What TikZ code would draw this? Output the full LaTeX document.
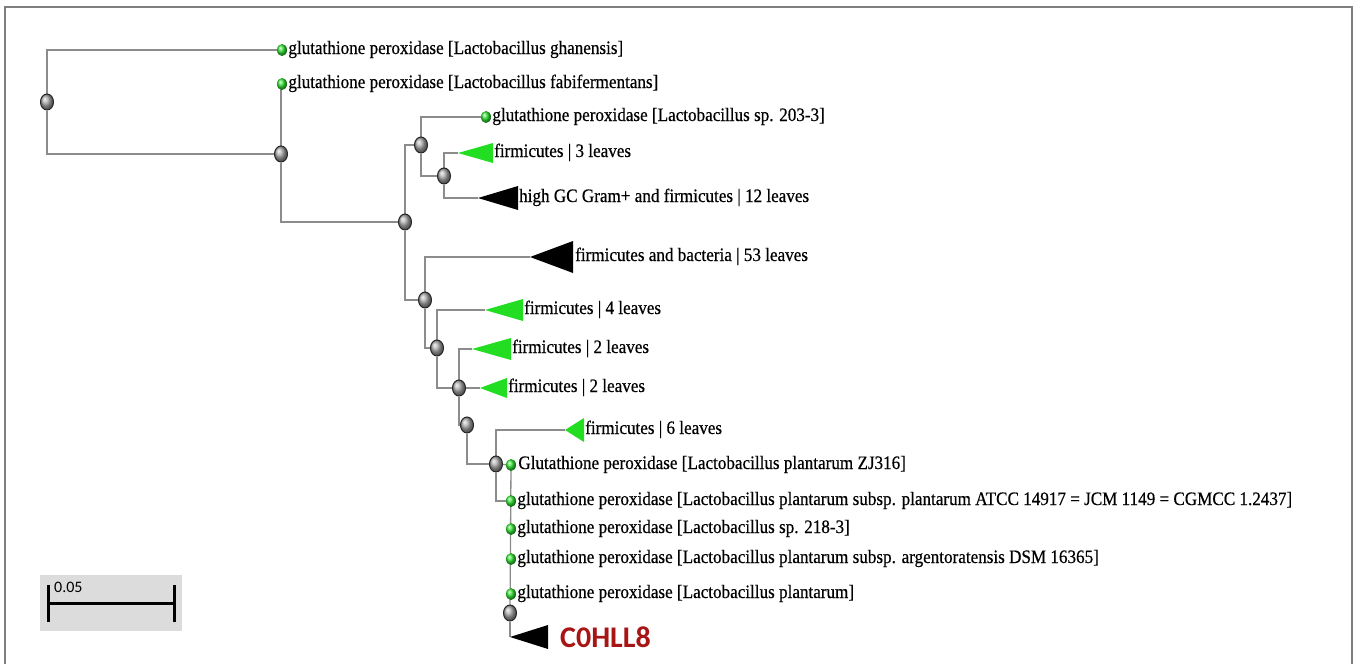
\documentclass[tikz,border=0pt]{standalone}
\usepackage{fontspec}
\setmainfont{Liberation Serif}[FakeStretch=0.9, FakeBold=0.5]
\newfontfamily\labelsans{Carlito}
\usepackage{xcolor}
\definecolor{branchGray}{HTML}{8C8C8C}
\definecolor{frameGray}{HTML}{7F7F7F}
\definecolor{leafGreen}{HTML}{33E633}
\definecolor{cladeGreen}{HTML}{22DD22}
\definecolor{queryRed}{HTML}{A81515}
\definecolor{scaleBg}{HTML}{DCDCDC}
\usepackage{tikz}
\usetikzlibrary{positioning,shapes.geometric,backgrounds}
\tikzset{%
  innerNode/.style={%
    ellipse,
    minimum width=13pt,
    minimum height=16pt,
    inner sep=0pt,
    draw=black!85,
    line width=1pt,
    shading=ball,
    ball color=gray!65
  },
  leafDot/.style={%
    ellipse,
    minimum width=10pt,
    minimum height=12pt,
    inner sep=0pt,
    shading=ball,
    ball color=leafGreen
  },
  branch/.style={%
    draw=branchGray,
    line width=1.3pt
  },
  leafText/.style={%
    font=\fontsize{19}{21}\selectfont,
    inner sep=1pt,
    text height=12pt,
    text depth=4pt
  },
  greenClade/.style={fill=cladeGreen},
  blackClade/.style={fill=black},
  queryText/.style={%
    font=\labelsans\bfseries\fontsize{30}{32}\selectfont,
    text=queryRed,
    inner sep=1pt
  },
  scaleBox/.style={%
    rectangle,
    fill=scaleBg,
    minimum width=142pt,
    minimum height=56pt
  },
  scaleBar/.style={line width=3pt, black}
}

\begin{document}
\begin{tikzpicture}[x=1pt, y=-1pt]
  \useasboundingbox (0,0) rectangle (1354,664);
  \draw[frameGray, line width=1.5pt] (5,664) -- (5,7) -- (1352,7) -- (1352,664);

  % inner nodes
  \node[innerNode] (n0) at (47,102) {};
  \node[innerNode] (n1) at (281,154) {};
  \node[innerNode] (n2) at (405,222) {};
  \node[innerNode] (n3) at (421,145) {};
  \node[innerNode] (n5) at (444,176) {};
  \node[innerNode] (n4) at (425,300) {};
  \node[innerNode] (n6) at (437,348) {};
  \node[innerNode] (n7) at (459,388) {};
  \node[innerNode] (n8) at (467,425) {};
  \node[innerNode] (n9) at (496,464) {};
  \node[innerNode] (n10) at (510,613) {};

  % leaves
  \node[leafDot] (ghan) at (282,50) {};
  \node[leafDot] (fabi) at (282,84) {};
  \node[leafDot] (sp203) at (486,117) {};
  \node[leafDot] (zj316) at (511,465) {};
  \node[leafDot] (atcc) at (511,501) {};
  \node[leafDot] (sp218) at (511,529) {};
  \node[leafDot] (argen) at (511,559) {};
  \node[leafDot] (plant) at (511,594) {};

  \node[leafText, right=0pt of ghan] (ghanLab) {glutathione peroxidase [Lactobacillus ghanensis]};
  \node[leafText, right=0pt of fabi] (fabiLab) {glutathione peroxidase [Lactobacillus fabifermentans]};
  \node[leafText, right=0pt of sp203] (sp203Lab) {glutathione peroxidase [Lactobacillus sp. 203-3]};
  \node[leafText, right=1pt of zj316] (zj316Lab) {Glutathione peroxidase [Lactobacillus plantarum ZJ316]};
  \node[leafText, right=0pt of atcc] (atccLab) {glutathione peroxidase [Lactobacillus plantarum subsp. plantarum ATCC 14917 = JCM 1149 = CGMCC 1.2437]};
  \node[leafText, right=0pt of sp218] (sp218Lab) {glutathione peroxidase [Lactobacillus sp. 218-3]};
  \node[leafText, right=0pt of argen] (argenLab) {glutathione peroxidase [Lactobacillus plantarum subsp. argentoratensis DSM 16365]};
  \node[leafText, right=0pt of plant] (plantLab) {glutathione peroxidase [Lactobacillus plantarum]};

  % collapsed clades
  \coordinate (c3) at (458,153);
  \fill[greenClade] (c3) -- ++(35,-10) -- ++(0,20) -- cycle;
  \node[leafText, right=35pt of c3] (c3Lab) {firmicutes | 3 leaves};

  \coordinate (c12) at (478,198);
  \fill[blackClade] (c12) -- ++(40,-12) -- ++(0,24) -- cycle;
  \node[leafText, right=40pt of c12] (c12Lab) {high GC Gram+ and firmicutes | 12 leaves};

  \coordinate (c53) at (530,257);
  \fill[blackClade] (c53) -- ++(43,-16) -- ++(0,32) -- cycle;
  \node[leafText, right=44pt of c53] (c53Lab) {firmicutes and bacteria | 53 leaves};

  \coordinate (c4) at (485,310);
  \fill[greenClade] (c4) -- ++(38,-11) -- ++(0,22) -- cycle;
  \node[leafText, right=38pt of c4] (c4Lab) {firmicutes | 4 leaves};

  \coordinate (c2a) at (472,349);
  \fill[greenClade] (c2a) -- ++(39,-11) -- ++(0,22) -- cycle;
  \node[leafText, right=39pt of c2a] (c2aLab) {firmicutes | 2 leaves};

  \coordinate (c2b) at (480,388);
  \fill[greenClade] (c2b) -- ++(27,-10) -- ++(0,20) -- cycle;
  \node[leafText, right=27pt of c2b] (c2bLab) {firmicutes | 2 leaves};

  \coordinate (c6) at (565,430);
  \fill[greenClade] (c6) -- ++(19,-12) -- ++(0,24) -- cycle;
  \node[leafText, right=19pt of c6] (c6Lab) {firmicutes | 6 leaves};

  \coordinate (cq) at (510,637);
  \fill[blackClade] (cq) -- ++(38,-12) -- ++(0,24) -- cycle;
  \node[queryText, right=49pt of cq] (cqLab) {C0HLL8};

  % branches
  \begin{scope}[on background layer]
    \draw[branch] (n0) |- (ghan);
    \draw[branch] (n0) |- (n1);
    \draw[branch] (n1) |- (fabi);
    \draw[branch] (n1) |- (n2);
    \draw[branch] (n2) |- (n3);
    \draw[branch] (n2) |- (n4);
    \draw[branch] (n3) |- (sp203);
    \draw[branch] (n3) |- (n5);
    \draw[branch] (n5) |- (c3);
    \draw[branch] (n5) |- (c12);
    \draw[branch] (n4) |- (c53);
    \draw[branch] (n4) |- (n6);
    \draw[branch] (n6) |- (c4);
    \draw[branch] (n6) |- (n7);
    \draw[branch] (n7) |- (c2a);
    \draw[branch] (n7) -- (c2b);
    \draw[branch] (n7) |- (n8);
    \draw[branch] (n8) |- (n9);
    \draw[branch] (n9) |- (c6);
    \draw[branch] (n9) -- (zj316);
    \draw[branch] (n9) |- (atcc);
    \draw[branch] (zj316) -- (n10);
    \draw[branch] (n10) -- (cq);
  \end{scope}

  % scale bar
  \node[scaleBox] (scale) at (111,603) {};
  \draw[scaleBar] (48,585) -- (48,622);
  \draw[scaleBar] (174,585) -- (174,622);
  \draw[scaleBar] (48,603) -- (174,603);
  \node[font=\labelsans\fontsize{16}{18}\selectfont, anchor=west, inner sep=0pt] (scaleLab) at (54,587) {0.05};
\end{tikzpicture}
\end{document}
